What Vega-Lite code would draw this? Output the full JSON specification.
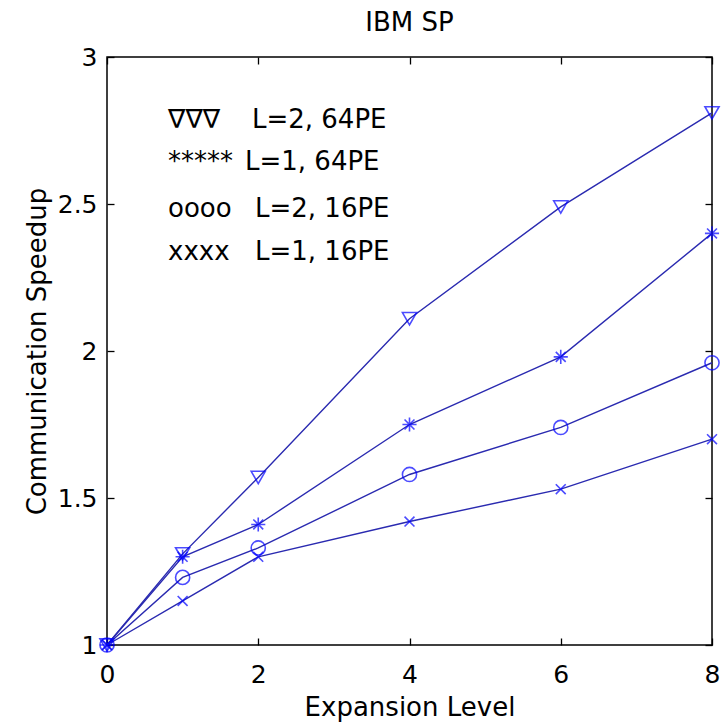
{
  "$schema": "https://vega.github.io/schema/vega-lite/v6.json",
  "autosize": "none",
  "width": 605,
  "height": 588,
  "padding": {"left": 107, "top": 57, "right": 13, "bottom": 79},
  "background": "white",
  "title": {"text": "IBM SP", "fontSize": 26, "font": "DejaVu Sans", "fontWeight": "normal", "color": "black", "offset": 9},
  "config": {
    "view": {"stroke": "black", "strokeWidth": 1.5},
    "axis": {"grid": false, "domain": false, "labelFlush": false, "tickColor": "black", "tickWidth": 1.3, "labelColor": "black", "titleColor": "black", "labelFont": "DejaVu Sans", "titleFont": "DejaVu Sans", "labelFontSize": 25, "titleFontSize": 26, "titleFontWeight": "normal"}
  },
  "datasets": {
    "series": [
      {"series": "L=2, 64PE", "x": 0, "y": 1.0},
      {"series": "L=2, 64PE", "x": 1, "y": 1.31},
      {"series": "L=2, 64PE", "x": 2, "y": 1.57},
      {"series": "L=2, 64PE", "x": 4, "y": 2.11},
      {"series": "L=2, 64PE", "x": 6, "y": 2.49},
      {"series": "L=2, 64PE", "x": 8, "y": 2.81},
      {"series": "L=1, 64PE", "x": 0, "y": 1.0},
      {"series": "L=1, 64PE", "x": 1, "y": 1.3},
      {"series": "L=1, 64PE", "x": 2, "y": 1.41},
      {"series": "L=1, 64PE", "x": 4, "y": 1.75},
      {"series": "L=1, 64PE", "x": 6, "y": 1.98},
      {"series": "L=1, 64PE", "x": 8, "y": 2.4},
      {"series": "L=2, 16PE", "x": 0, "y": 1.0},
      {"series": "L=2, 16PE", "x": 1, "y": 1.23},
      {"series": "L=2, 16PE", "x": 2, "y": 1.33},
      {"series": "L=2, 16PE", "x": 4, "y": 1.58},
      {"series": "L=2, 16PE", "x": 6, "y": 1.74},
      {"series": "L=2, 16PE", "x": 8, "y": 1.96},
      {"series": "L=1, 16PE", "x": 0, "y": 1.0},
      {"series": "L=1, 16PE", "x": 1, "y": 1.15},
      {"series": "L=1, 16PE", "x": 2, "y": 1.3},
      {"series": "L=1, 16PE", "x": 4, "y": 1.42},
      {"series": "L=1, 16PE", "x": 6, "y": 1.53},
      {"series": "L=1, 16PE", "x": 8, "y": 1.7}
    ],
    "legend": [
      {"sym": "∇∇∇", "label": "L=2, 64PE", "xs": 0.807, "xl": 1.917, "y": 2.759},
      {"sym": "*****", "label": "L=1, 64PE", "xs": 0.807, "xl": 1.825, "y": 2.616},
      {"sym": "oooo", "label": "L=2, 16PE", "xs": 0.807, "xl": 1.957, "y": 2.456},
      {"sym": "xxxx", "label": "L=1, 16PE", "xs": 0.807, "xl": 1.957, "y": 2.31}
    ]
  },
  "resolve": {"axis": {"x": "independent", "y": "independent"}},
  "layer": [
    {
      "data": {"name": "series"},
      "mark": {"type": "line", "color": "#2a2ab0", "strokeWidth": 1.4},
      "encoding": {
        "x": {"field": "x", "type": "quantitative", "scale": {"domain": [0, 8]}, "axis": {"orient": "bottom", "values": [0, 2, 4, 6, 8], "format": "~g", "tickSize": -7, "labelPadding": 44, "labelBaseline": "alphabetic", "title": "Expansion Level", "titleY": 70, "titleBaseline": "alphabetic"}},
        "y": {"field": "y", "type": "quantitative", "scale": {"domain": [1, 3]}, "axis": {"orient": "left", "values": [1, 1.5, 2, 2.5, 3], "format": "~g", "tickSize": -7, "labelPadding": 17, "title": "Communication Speedup", "titleX": -62, "titleBaseline": "alphabetic"}},
        "detail": {"field": "series"}
      }
    },
    {
      "data": {"name": "series"},
      "mark": {"type": "point", "filled": false, "color": "#0000ff", "strokeWidth": 1.6, "size": 200},
      "encoding": {
        "x": {"field": "x", "type": "quantitative", "axis": {"orient": "top", "values": [0, 2, 4, 6, 8], "labels": false, "title": null, "tickSize": -7}},
        "y": {"field": "y", "type": "quantitative", "axis": {"orient": "right", "values": [1, 1.5, 2, 2.5, 3], "labels": false, "title": null, "tickSize": -7}},
        "shape": {"field": "series", "type": "nominal", "legend": null, "scale": {"domain": ["L=2, 64PE", "L=1, 64PE", "L=2, 16PE", "L=1, 16PE"], "range": ["triangle-down", "M-1,0L1,0M0,-1L0,1M-0.7,-0.7L0.7,0.7M-0.7,0.7L0.7,-0.7", "circle", "M-0.7,-0.7L0.7,0.7M-0.7,0.7L0.7,-0.7"]}}
      }
    },
    {
      "data": {"name": "legend"},
      "mark": {"type": "text", "align": "left", "baseline": "alphabetic", "font": "DejaVu Sans", "fontSize": 26, "color": "black"},
      "encoding": {
        "x": {"field": "xs", "type": "quantitative", "axis": null},
        "y": {"field": "y", "type": "quantitative", "axis": null},
        "text": {"field": "sym"}
      }
    },
    {
      "data": {"name": "legend"},
      "mark": {"type": "text", "align": "left", "baseline": "alphabetic", "font": "DejaVu Sans", "fontSize": 26, "color": "black"},
      "encoding": {
        "x": {"field": "xl", "type": "quantitative", "axis": null},
        "y": {"field": "y", "type": "quantitative", "axis": null},
        "text": {"field": "label"}
      }
    }
  ]
}
